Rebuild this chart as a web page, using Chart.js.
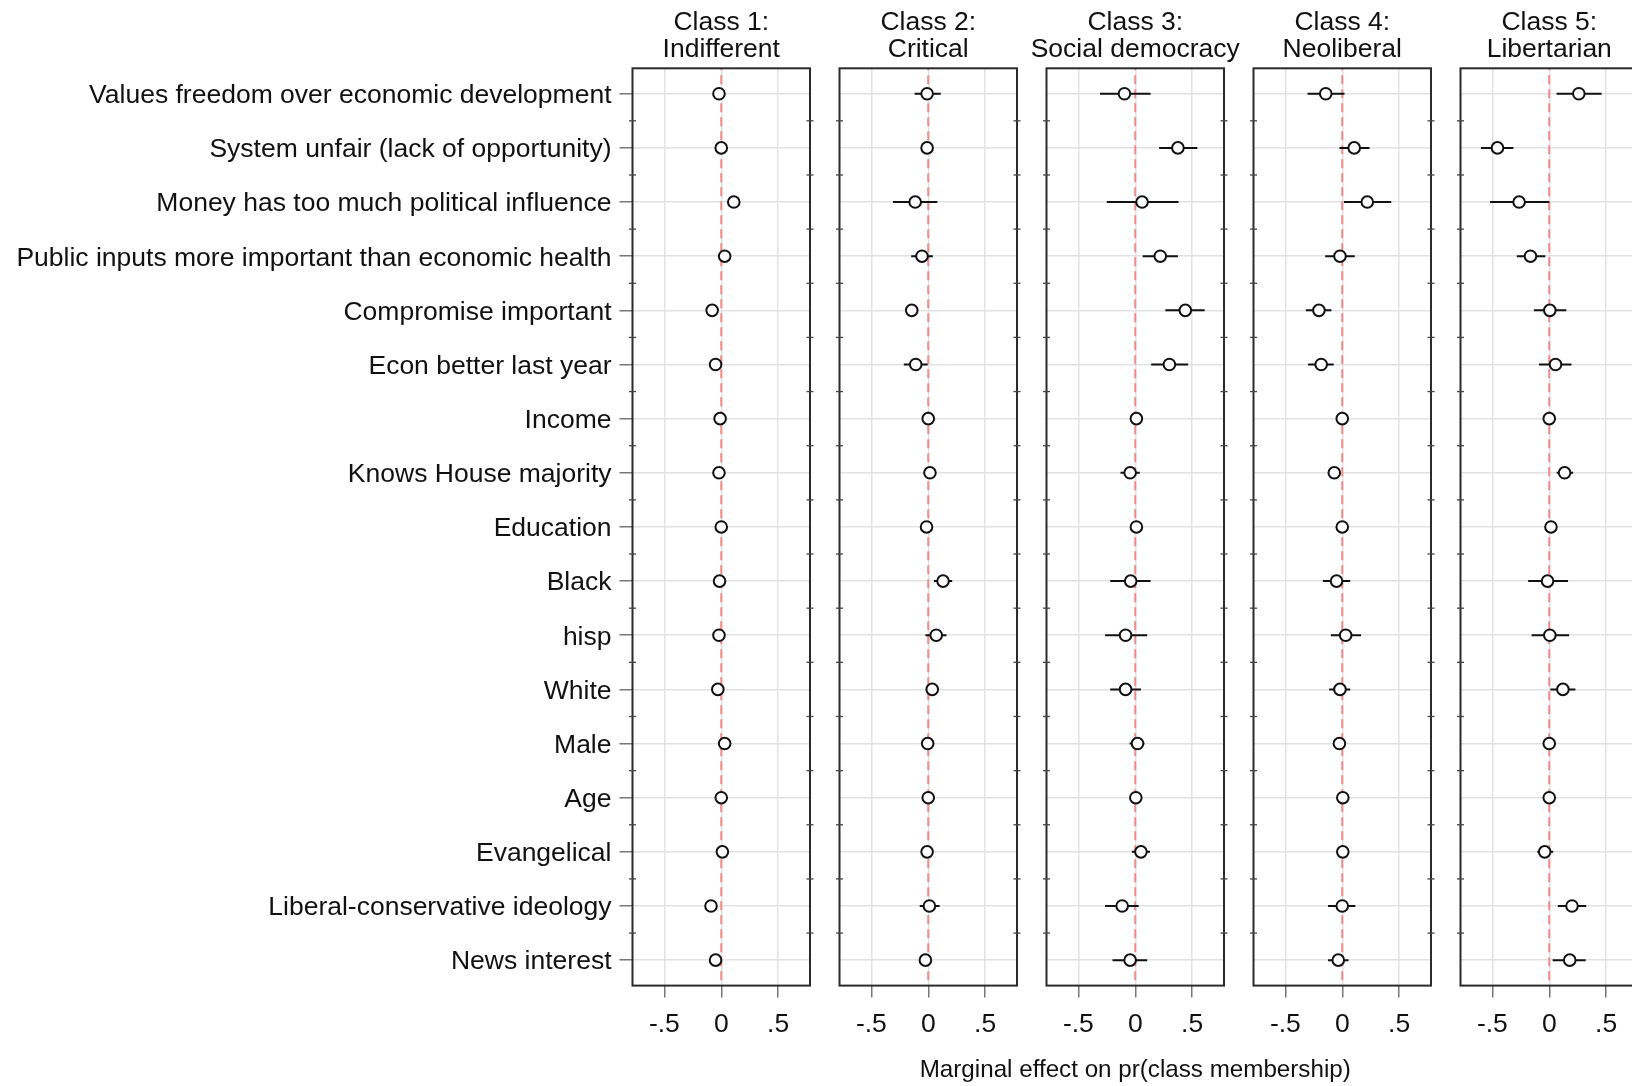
<!DOCTYPE html>
<html>
<head>
<meta charset="utf-8">
<script src="https://cdn.jsdelivr.net/npm/chart.js@4.4.0/dist/chart.umd.min.js"></script>
<style>
  body { margin: 0; background: #fff; overflow: hidden; width: 1632px; height: 1086px; position: relative; }
  canvas { position: absolute; left: 0; top: 0; }
</style>
</head>
<body>
<canvas id="c1" width="1700" height="1086"></canvas>
<canvas id="c2" width="1700" height="1086"></canvas>
<canvas id="c3" width="1700" height="1086"></canvas>
<canvas id="c4" width="1700" height="1086"></canvas>
<canvas id="c5" width="1700" height="1086"></canvas>
<script>
const rowLabels = [
  "Values freedom over economic development",
  "System unfair (lack of opportunity)",
  "Money has too much political influence",
  "Public inputs more important than economic health",
  "Compromise important",
  "Econ better last year",
  "Income",
  "Knows House majority",
  "Education",
  "Black",
  "hisp",
  "White",
  "Male",
  "Age",
  "Evangelical",
  "Liberal-conservative ideology",
  "News interest"
];

const classTitles = [
  ["Class 1:", "Indifferent"],
  ["Class 2:", "Critical"],
  ["Class 3:", "Social democracy"],
  ["Class 4:", "Neoliberal"],
  ["Class 5:", "Libertarian"]
];

const xTicks = [-0.5, 0, 0.5];
const xTickLabels = ["-.5", "0", ".5"];
const xTitle = "Marginal effect on pr(class membership)";

// point estimates, one array per class
const est1 = [-0.02, 0.0, 0.11, 0.03, -0.08, -0.05, -0.01, -0.02, 0.0, -0.015, -0.02, -0.03, 0.03, 0.0, 0.01, -0.09, -0.05];
const est2 = [-0.01, -0.01, -0.115, -0.055, -0.145, -0.11, 0.0, 0.015, -0.015, 0.13, 0.07, 0.035, -0.005, 0.0, -0.01, 0.01, -0.025];
const est3 = [-0.095, 0.375, 0.06, 0.22, 0.44, 0.3, 0.01, -0.045, 0.01, -0.04, -0.085, -0.085, 0.02, 0.005, 0.05, -0.115, -0.045];
const est4 = [-0.145, 0.105, 0.22, -0.02, -0.205, -0.185, 0.0, -0.07, 0.0, -0.05, 0.03, -0.02, -0.025, 0.005, 0.005, 0.0, -0.035];
const est5 = [0.26, -0.455, -0.265, -0.165, 0.005, 0.055, 0.0, 0.135, 0.015, -0.015, 0.005, 0.12, 0.0, 0.0, -0.04, 0.2, 0.18];

// confidence interval ends
const lo1 = [-0.05, -0.03, 0.08, 0.0, -0.11, -0.08, -0.04, -0.05, -0.03, -0.045, -0.05, -0.06, 0.0, -0.03, -0.02, -0.12, -0.08];
const hi1 = [0.01, 0.03, 0.14, 0.06, -0.05, -0.02, 0.02, 0.01, 0.03, 0.015, 0.01, 0.0, 0.06, 0.03, 0.04, -0.06, -0.02];
const lo2 = [-0.12, -0.04, -0.31, -0.15, -0.18, -0.215, -0.03, -0.015, -0.045, 0.05, -0.025, 0.0, -0.035, -0.03, -0.04, -0.075, -0.055];
const hi2 = [0.11, 0.02, 0.08, 0.04, -0.11, -0.005, 0.03, 0.045, 0.015, 0.21, 0.16, 0.07, 0.025, 0.03, 0.02, 0.1, 0.005];
const lo3 = [-0.31, 0.21, -0.25, 0.065, 0.265, 0.14, -0.02, -0.13, -0.02, -0.22, -0.265, -0.22, -0.05, -0.025, -0.03, -0.265, -0.2];
const hi3 = [0.135, 0.545, 0.38, 0.375, 0.61, 0.465, 0.04, 0.04, 0.04, 0.135, 0.105, 0.05, 0.08, 0.035, 0.13, 0.03, 0.105];
const lo4 = [-0.305, -0.025, 0.015, -0.15, -0.32, -0.3, -0.03, -0.1, -0.03, -0.17, -0.1, -0.115, -0.055, -0.025, -0.025, -0.125, -0.125];
const hi4 = [0.02, 0.24, 0.43, 0.11, -0.095, -0.075, 0.03, -0.04, 0.03, 0.07, 0.165, 0.07, 0.005, 0.035, 0.035, 0.115, 0.055];
const lo5 = [0.065, -0.6, -0.52, -0.285, -0.135, -0.09, -0.03, 0.065, -0.015, -0.185, -0.155, 0.01, -0.03, -0.03, -0.105, 0.075, 0.03];
const hi5 = [0.46, -0.315, 0.0, -0.035, 0.15, 0.195, 0.03, 0.21, 0.045, 0.165, 0.175, 0.23, 0.03, 0.03, 0.035, 0.325, 0.32];

const estimates = [est1, est2, est3, est4, est5];
const lows = [lo1, lo2, lo3, lo4, lo5];
const highs = [hi1, hi2, hi3, hi4, hi5];

// panel placement on the page
const panelLeft = [632.5, 839.5, 1046.5, 1253.5, 1460.5];
const panelWidth = 177.5;
const canvasWidth = 1700;
const FONT = '"Liberation Sans", Arial, sans-serif';

Chart.defaults.font.family = FONT;
Chart.defaults.color = '#111';

const panelDecor = {
  id: 'panelDecor',
  afterDraw(chart, args, opts) {
    const {ctx, chartArea: a} = chart;
    const y = chart.scales.y;
    ctx.save();
    ctx.strokeStyle = '#2b2b2b';
    ctx.lineWidth = 2;
    ctx.strokeRect(a.left, a.top, a.right - a.left, a.bottom - a.top);
    // small marks between rows on both frame sides
    ctx.lineWidth = 1.3;
    ctx.strokeStyle = '#444';
    for (let v = 1.5; v < rowLabels.length; v += 1) {
      const py = y.getPixelForValue(v);
      [a.left, a.right].forEach(px => {
        ctx.beginPath();
        ctx.moveTo(px - 3.5, py);
        ctx.lineTo(px + 3.5, py);
        ctx.stroke();
      });
    }
    ctx.fillStyle = '#111';
    ctx.textAlign = 'center';
    ctx.textBaseline = 'middle';
    ctx.font = '26.5px ' + FONT;
    const cx = (a.left + a.right) / 2;
    opts.title.forEach((t, i) => ctx.fillText(t, cx, a.top - 46 + i * 27));
    if (opts.xTitle) {
      ctx.font = '24.2px ' + FONT;
      ctx.fillText(opts.xTitle, cx, a.bottom + 85);
    }
    ctx.restore();
  }
};

function makePanel(k) {
  const first = k === 0;
  const datasets = [];
  datasets.push({
    type: 'line',
    data: [{x: 0, y: 0.4}, {x: 0, y: rowLabels.length + 0.6}],
    borderColor: '#f28a8a',
    borderWidth: 2,
    borderDash: [9, 5],
    pointRadius: 0,
    order: 3
  });
  rowLabels.forEach((lab, i) => {
    datasets.push({
      type: 'line',
      data: [{x: lows[k][i], y: i + 1}, {x: highs[k][i], y: i + 1}],
      borderColor: '#111',
      borderWidth: 2,
      pointRadius: 0,
      order: 2
    });
  });
  datasets.push({
    type: 'scatter',
    data: estimates[k].map((v, i) => ({x: v, y: i + 1})),
    pointRadius: 5.8,
    pointBorderWidth: 2,
    pointBackgroundColor: '#fff',
    pointBorderColor: '#111',
    order: 1
  });

  const right = panelLeft[k] + panelWidth;
  return new Chart(document.getElementById('c' + (k + 1)), {
    type: 'scatter',
    data: {datasets: datasets},
    plugins: [panelDecor],
    options: {
      responsive: false,
      devicePixelRatio: 1,
      animation: false,
      events: [],
      layout: {padding: {left: first ? 0 : panelLeft[k], right: canvasWidth - right, top: 68.3, bottom: 0}},
      plugins: {
        legend: {display: false},
        tooltip: {enabled: false},
        panelDecor: {title: classTitles[k], xTitle: k === 2 ? xTitle : null}
      },
      scales: {
        x: {
          type: 'linear',
          min: -0.78,
          max: 0.78,
          afterBuildTicks: s => { s.ticks = xTicks.map(v => ({value: v})); },
          afterFit: s => { s.height = 100.4; },
          ticks: {
            autoSkip: false,
            maxRotation: 0,
            padding: 11,
            font: {size: 26.5},
            color: '#111',
            callback: v => xTickLabels[xTicks.indexOf(v)]
          },
          grid: {color: '#e2e2e2', lineWidth: 1.5, tickLength: 12, tickColor: '#777', tickWidth: 1.5},
          border: {display: false}
        },
        y: {
          type: 'linear',
          reverse: true,
          min: 0.53,
          max: rowLabels.length + 0.47,
          afterBuildTicks: s => { s.ticks = rowLabels.map((l, i) => ({value: i + 1})); },
          afterFit: s => { s.width = first ? panelLeft[0] : 0; },
          ticks: {
            display: first,
            autoSkip: false,
            padding: 8,
            labelOffset: 2,
            font: {size: 26.5},
            color: '#111',
            callback: v => rowLabels[v - 1]
          },
          grid: {color: '#e2e2e2', lineWidth: 1.5, drawTicks: first, tickLength: first ? 13 : 0, tickColor: '#777', tickWidth: 1.5},
          border: {display: false}
        }
      }
    }
  });
}

for (let k = 0; k < 5; k++) makePanel(k);
</script>
</body>
</html>
